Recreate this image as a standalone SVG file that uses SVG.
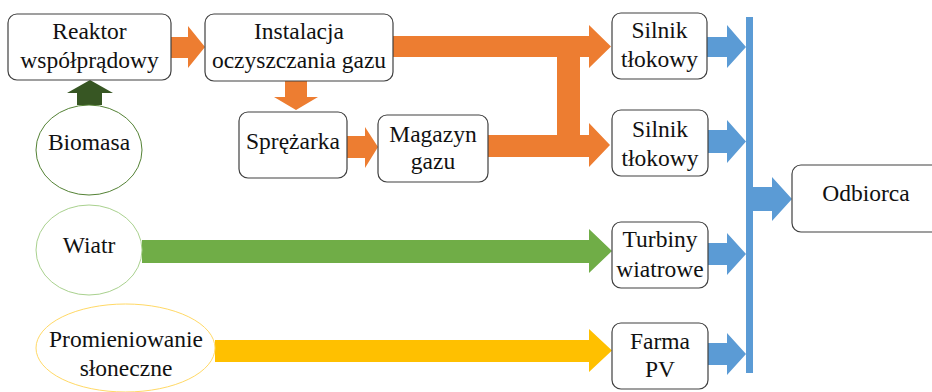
<svg xmlns="http://www.w3.org/2000/svg" width="932" height="392" viewBox="0 0 932 392">
<style>
.box{fill:#fff;stroke:#404040;stroke-width:1.2}
.t{font-family:"Liberation Serif","Times New Roman",serif;font-size:23.5px;fill:#111;text-anchor:middle}
.or{fill:#ED7D31}
.bl{fill:#5B9BD5}
</style>
<rect width="932" height="392" fill="#fff"/>
<g id="connectors">
<polygon class="or" points="171,37 188,37 188,26 205,47 188,68 188,58 171,58"/>
<polygon fill="#375623" points="77,105 77,93 67,93 90,80 113,93 102,93 102,105"/>
<polygon class="or" points="285,81 307,81 307,97 318,97 296,110 274,97 285,97"/>
<polygon class="or" points="347,136 365,136 365,127 378,147 365,168 365,158 347,158"/>
<polygon class="or" points="393,36 589,36 589,25 611,46.5 589,68 589,57 580,57 580,135 589,135 589,123 610,145 589,167 589,157 488,157 488,135 557,135 557,57 393,57"/>
<polygon class="bl" points="707,37 727,37 727,25 746,47 727,68 727,57 707,57"/>
<polygon class="bl" points="708,130 727,130 727,120 746,141.5 727,163 727,153 708,153"/>
<polygon class="bl" points="708,243 727,243 727,233 746,254 727,275 727,265 708,265"/>
<polygon class="bl" points="708,343 727,343 727,333 746,354 727,375 727,365 708,365"/>
<rect class="bl" x="746" y="17" width="7" height="356"/>
<polygon class="bl" points="753,187 772,187 772,177 792,199 772,221 772,211 753,211"/>
<polygon fill="#70AD47" points="142,240 589,240 589,229 612,251 589,273 589,263 142,263"/>
<polygon fill="#FFC000" points="215,340 589,340 589,329 612,350.5 589,372 589,362 215,362"/>
</g>
<g id="reaktor"><rect class="box" x="8" y="14" width="163" height="66" rx="9"/><text class="t" x="89.5" y="39">Reaktor</text><text class="t" x="89.5" y="68">współprądowy</text></g>
<g id="instalacja"><rect class="box" x="205" y="14" width="188" height="67" rx="9"/><text class="t" x="299" y="39">Instalacja</text><text class="t" x="299" y="68">oczyszczania gazu</text></g>
<g id="biomasa"><ellipse cx="89" cy="150" rx="53" ry="45" fill="#fff" stroke="#548235" stroke-width="1"/><text class="t" x="89" y="150">Biomasa</text></g>
<g id="sprezarka"><rect class="box" x="239" y="112" width="108" height="66" rx="9"/><text class="t" x="293" y="149">Sprężarka</text></g>
<g id="magazyn"><rect class="box" x="378" y="115" width="110" height="67" rx="9"/><text class="t" x="433" y="142">Magazyn</text><text class="t" x="433" y="169">gazu</text></g>
<g id="silnik1"><rect class="box" x="612" y="13" width="95" height="66" rx="9"/><text class="t" x="659.5" y="38">Silnik</text><text class="t" x="659.5" y="67">tłokowy</text></g>
<g id="silnik2"><rect class="box" x="612" y="110" width="96" height="66" rx="9"/><text class="t" x="660" y="137">Silnik</text><text class="t" x="660" y="166">tłokowy</text></g>
<g id="turbiny"><rect class="box" x="612" y="222" width="96" height="66" rx="9"/><text class="t" x="660" y="247">Turbiny</text><text class="t" x="660" y="277">wiatrowe</text></g>
<g id="farma"><rect class="box" x="612" y="323" width="96" height="66" rx="9"/><text class="t" x="660" y="349">Farma</text><text class="t" x="660" y="377">PV</text></g>
<g id="odbiorca"><rect class="box" x="792" y="165" width="150" height="67" rx="9"/><text class="t" x="866" y="201">Odbiorca</text></g>
<g id="wiatr"><ellipse cx="89" cy="250" rx="53" ry="45" fill="#fff" stroke="#A9D18E" stroke-width="1"/><text class="t" x="89" y="253">Wiatr</text></g>
<g id="promieniowanie"><ellipse cx="125.5" cy="348" rx="89.5" ry="44" fill="#fff" stroke="#FFD966" stroke-width="1"/><text class="t" x="126" y="347">Promieniowanie</text><text class="t" x="126" y="376">słoneczne</text></g>
</svg>
